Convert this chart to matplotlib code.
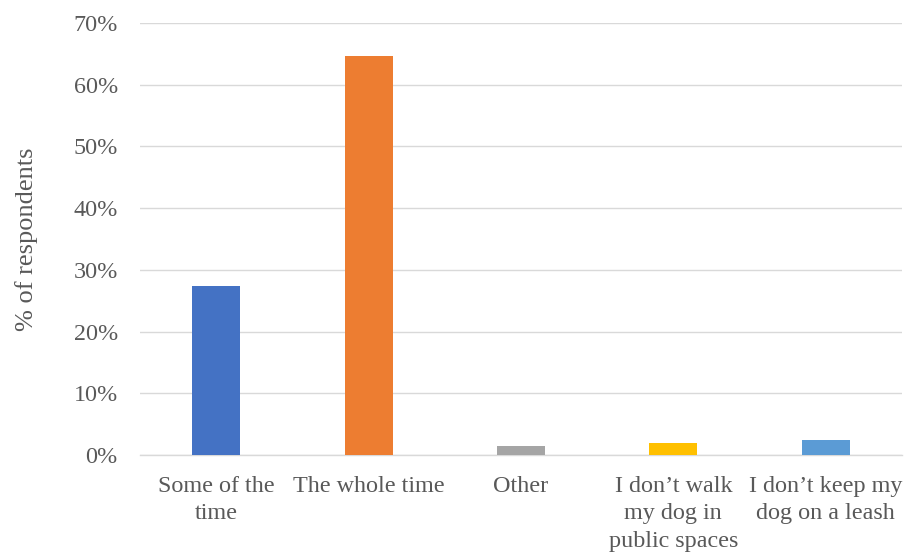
import matplotlib
matplotlib.use("Agg")
import matplotlib.pyplot as plt
from matplotlib.ticker import FuncFormatter

categories = ["Some of the\ntime", "The whole time", "Other",
              "I don\u2019t walk\nmy dog in\npublic spaces",
              "I don\u2019t keep my\ndog on a leash"]
values = [27.4, 64.6, 1.5, 1.9, 2.5]
colors = ["#4472C4", "#ED7D31", "#A5A5A5", "#FFC000", "#5B9BD5"]
yticks = [0, 10, 20, 30, 40, 50, 60, 70]

plt.rcParams["font.family"] = ["Liberation Serif", "DejaVu Serif"]
text_color = "#595959"

fig = plt.figure(figsize=(9.06, 5.52), dpi=100)
ax = fig.add_axes([0.1545, 0.1757, 0.841, 0.7826])

x = list(range(len(categories)))
ax.bar(x, values, width=0.315, color=colors, zorder=3)

ax.set_xlim(-0.5, len(categories) - 0.5)
ax.set_ylim(0, 70)
ax.set_yticks(yticks)
ax.yaxis.set_major_formatter(FuncFormatter(lambda v, p: f"{int(v)}%"))
ax.set_xticks(x)
ax.set_xticklabels(categories, linespacing=1.38)

ax.grid(axis="y", color="#d9d9d9", linewidth=1.0, zorder=0)
for s in ["top", "right", "left"]:
    ax.spines[s].set_visible(False)
ax.spines["bottom"].set_color("#d9d9d9")
ax.spines["bottom"].set_linewidth(1.0)

ax.tick_params(axis="both", length=0, labelsize=17.4, colors=text_color)
ax.tick_params(axis="y", pad=16)
ax.tick_params(axis="x", pad=15.4)
ax.set_ylabel("% of respondents", fontsize=19, color=text_color, labelpad=25.5)

fig.savefig("out.png", dpi=100)
